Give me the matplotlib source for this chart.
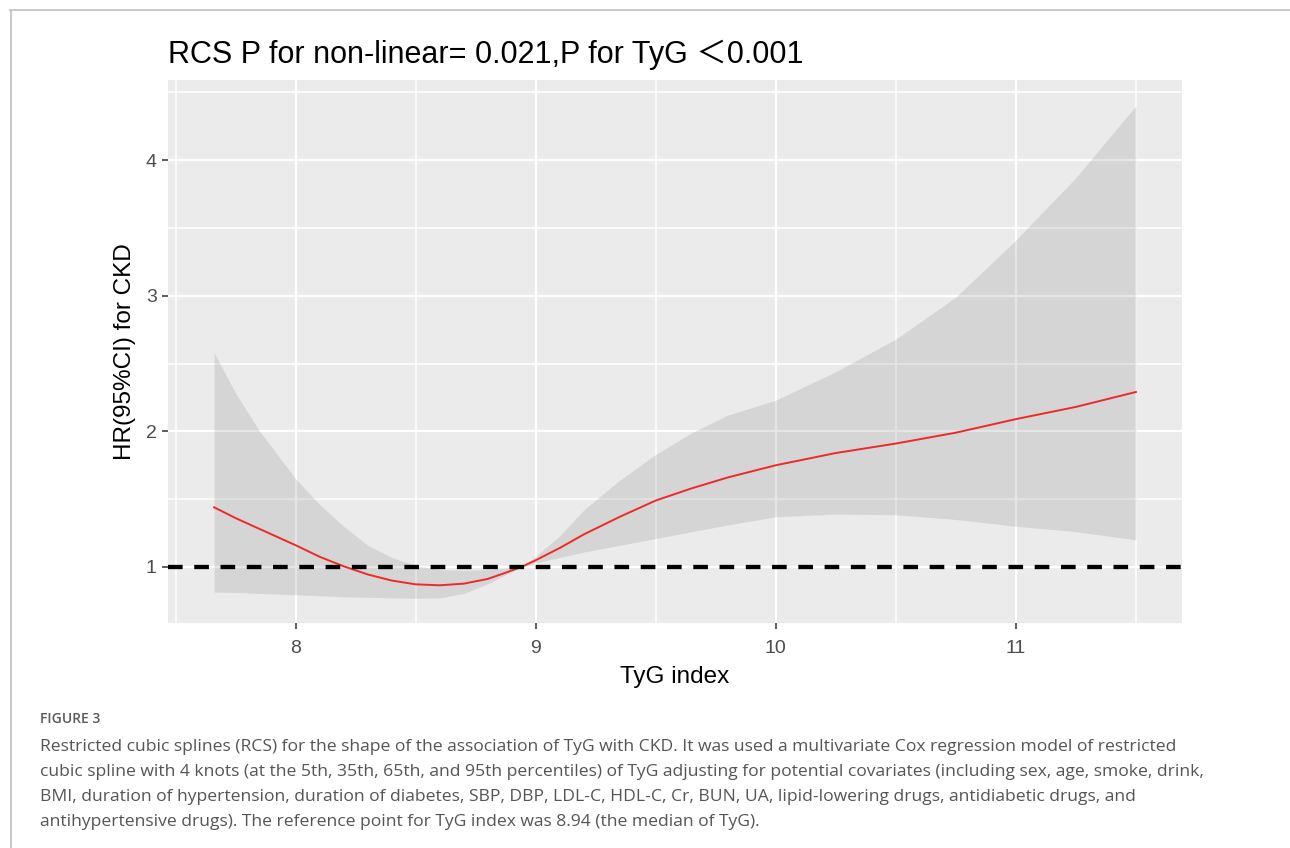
import matplotlib
matplotlib.use("Agg")
import matplotlib.pyplot as plt
from matplotlib.ticker import MultipleLocator, FixedLocator
from matplotlib.lines import Line2D

# ---------------- data ----------------
tyg = [7.66, 7.75, 7.85, 8.0, 8.1, 8.2, 8.3, 8.4, 8.5, 8.6, 8.7, 8.8, 8.87,
       8.94, 9.0, 9.1, 9.2, 9.35, 9.5, 9.65, 9.8, 10.0, 10.25, 10.5, 10.75,
       11.0, 11.25, 11.5]
hr = [1.44, 1.36, 1.28, 1.16, 1.075, 1.005, 0.945, 0.90, 0.872, 0.865, 0.877,
      0.912, 0.955, 1.0, 1.05, 1.14, 1.24, 1.37, 1.49, 1.58, 1.66, 1.75, 1.84,
      1.91, 1.99, 2.09, 2.18, 2.29]
hr_upper = [2.58, 2.28, 2.00, 1.65, 1.46, 1.30, 1.16, 1.07, 1.01, 0.98,
            0.975, 0.98, 0.99, 1.0, 1.08, 1.23, 1.42, 1.64, 1.83, 1.99, 2.12,
            2.23, 2.44, 2.68, 2.99, 3.41, 3.87, 4.40]
hr_lower = [0.815, 0.812, 0.805, 0.795, 0.788, 0.78, 0.777, 0.772, 0.77,
            0.772, 0.805, 0.875, 0.94, 1.0, 1.03, 1.07, 1.11, 1.16, 1.21,
            1.26, 1.31, 1.37, 1.39, 1.385, 1.35, 1.30, 1.26, 1.20]
ref_hr = 1.0
x_ticks = [8, 9, 10, 11]
y_ticks = [1, 2, 3, 4]

title = "RCS P for non-linear= 0.021,P for TyG \uff1c0.001"
x_label = "TyG index"
y_label = "HR(95%CI) for CKD"
fig_label = "FIGURE 3"
caption_lines = [
    "Restricted cubic splines (RCS) for the shape of the association of TyG with CKD. It was used a multivariate Cox regression model of restricted",
    "cubic spline with 4 knots (at the 5th, 35th, 65th, and 95th percentiles) of TyG adjusting for potential covariates (including sex, age, smoke, drink,",
    "BMI, duration of hypertension, duration of diabetes, SBP, DBP, LDL-C, HDL-C, Cr, BUN, UA, lipid-lowering drugs, antidiabetic drugs, and",
    "antihypertensive drugs). The reference point for TyG index was 8.94 (the median of TyG).",
]

# ---------------- figure ----------------
W, H = 1290, 848
fig = plt.figure(figsize=(W / 100, H / 100), dpi=100)
fig.patch.set_facecolor("white")
FAM = ["Liberation Sans", "Noto Sans CJK SC", "DejaVu Sans"]

# frame (top and left border)
fig.add_artist(Line2D([10 / W, 1.0], [1 - 9.5 / H, 1 - 9.5 / H],
                      transform=fig.transFigure, color="#c4c4c4", lw=1.3))
fig.add_artist(Line2D([10.5 / W, 10.5 / W], [0, 1 - 9.5 / H],
                      transform=fig.transFigure, color="#c4c4c4", lw=1.3))

L, R, T, B = 168, 1182, 80, 623
ax = fig.add_axes([L / W, 1 - B / H, (R - L) / W, (B - T) / H])
ax.set_facecolor("#EBEBEB")
for s in ax.spines.values():
    s.set_visible(False)

# expand 5% like ggplot
xr = max(tyg) - min(tyg)
ax.set_xlim(min(tyg) - 0.05 * xr, max(tyg) + 0.05 * xr)
ax.set_ylim(0.587, 4.59)

ax.xaxis.set_major_locator(FixedLocator(x_ticks))
ax.yaxis.set_major_locator(FixedLocator(y_ticks))
ax.xaxis.set_minor_locator(MultipleLocator(0.5))
ax.yaxis.set_minor_locator(MultipleLocator(0.5))
ax.set_axisbelow(True)
ax.grid(which="major", color="white", lw=1.6)
ax.grid(which="minor", color="white", lw=1.1)
ax.tick_params(which="minor", length=0)
ax.tick_params(which="major", length=4.2, width=1.1, color="#333333",
               labelcolor="#4D4D4D", labelsize=14)
ax.tick_params(axis="x", pad=8)
ax.tick_params(axis="y", pad=4)
for lab in ax.get_xticklabels() + ax.get_yticklabels():
    lab.set_family(FAM)

ax.fill_between(tyg, hr_lower, hr_upper, color="#808080", alpha=0.2, lw=0,
                zorder=1)
ax.plot(tyg, hr, color="#F02828", lw=1.4, zorder=2)
ax.axhline(ref_hr, color="black", lw=3.1, ls=(0, (3.4, 2.7)),
           dash_capstyle="butt", zorder=3)

# titles / labels
fig.text(L / W, 1 - 63 / H, title, ha="left", va="baseline",
         fontsize=22, family=FAM, color="black")
fig.text((L + R) / 2 / W, 1 - 683 / H, x_label, ha="center", va="baseline",
         fontsize=17.5, family=FAM, color="black")
fig.text(125 / W, 1 - (T + B) / 2 / H, y_label, ha="center", va="center",
         rotation=90, fontsize=17.5, family=FAM, color="black")

# caption
fig.text(40 / W, 1 - 719 / H, fig_label, ha="left", va="center",
         fontsize=10, family=["Open Sans", "DejaVu Sans"], weight="semibold",
         color="#5a5a5a")
for i, line in enumerate(caption_lines):
    fig.text(40 / W, 1 - (747 + 25 * i) / H, line, ha="left", va="center",
             fontsize=12.6, family=["Open Sans", "DejaVu Sans"],
             color="#555555")

fig.savefig("out.png", dpi=100)
